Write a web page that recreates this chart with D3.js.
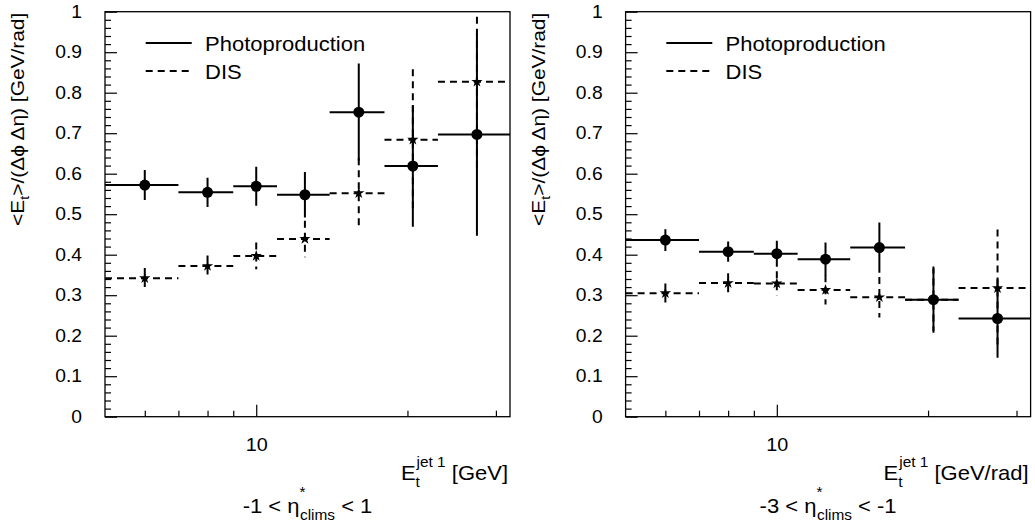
<!DOCTYPE html>
<html><head><meta charset="utf-8">
<script src="https://cdn.jsdelivr.net/npm/d3@7"></script>
<style>
body{margin:0;background:#fff}
svg{display:block}
text{font-family:"Liberation Sans",Arial,Helvetica,sans-serif;fill:#000}
</style>
</head><body>
<svg id="c" width="1035" height="527"></svg>
<script>
// ---- data ----
const binEdges = [5, 7, 9, 11, 14, 18, 23, 32];
const xMinorTicks = [6, 7, 8, 9, 20, 30];
const xMajorTicks = [10];
const xTickLabels = ["10"];
const yMajorTicks = [0, 0.1, 0.2, 0.3, 0.4, 0.5, 0.6, 0.7, 0.8, 0.9, 1];
const yTickLabels = ["0", "0.1", "0.2", "0.3", "0.4", "0.5", "0.6", "0.7", "0.8", "0.9", "1"];
const legendLabels = ["Photoproduction", "DIS"];

const photoLeft    = [0.572, 0.554, 0.569, 0.548, 0.752, 0.619, 0.697];
const photoLeftErr = [0.037, 0.036, 0.048, 0.056, 0.120, 0.150, 0.250];
const disLeft      = [0.342, 0.372, 0.397, 0.439, 0.552, 0.684, 0.827];
const disLeftErr   = [0.025, 0.026, 0.033, 0.045, 0.086, 0.174, 0.220];

const photoRight    = [0.436, 0.4075, 0.4025, 0.389, 0.4175, 0.289, 0.2425];
const photoRightErr = [0.027, 0.025, 0.032, 0.041, 0.062, 0.077, 0.097];
const disRight      = [0.305, 0.330, 0.329, 0.313, 0.295, 0.289, 0.3175];
const disRightErr   = [0.024, 0.024, 0.030, 0.036, 0.050, 0.082, 0.145];

const xTitleLeft = " [GeV]";
const xTitleRight = " [GeV/rad]";
const captionLeft = ["-1 < η", "*", "clims", " < 1"];
const captionRight = ["-3 < η", "*", "clims", " < -1"];

// ---- layout ----
const SX = 1.1;
const svg = d3.select("#c");
const Y0 = 11.7, Y1 = 416.7, W = 405;

function stretchText(sel){
  sel.each(function(){
    const t = d3.select(this);
    const x = +t.attr("x") || 0, y = +t.attr("y") || 0;
    t.attr("x", 0).attr("y", 0).attr("transform", `translate(${x},${y}) scale(${SX},1)`);
  });
}

function panel(idx, left, photo, photoErr, dis, disErr, xTitle, caption){
  const g = svg.append("g");
  const x = d3.scaleLog().domain([5, 32]).range([left, left + W]);
  const y = d3.scaleLinear().domain([0, 1]).range([Y1, Y0]);
  const centers = binEdges.slice(0, -1).map((e, i) => (e + binEdges[i + 1]) / 2);

  const clipId = "clip" + idx;
  svg.append("clipPath").attr("id", clipId).append("rect")
    .attr("x", left).attr("y", Y0).attr("width", W).attr("height", Y1 - Y0);

  // y axis: minor ticks
  const yMinor = d3.range(0, 1.0001, 0.02).filter(v => Math.abs(v * 10 - Math.round(v * 10)) > 1e-6);
  g.append("g").attr("transform", `translate(${left},0)`)
    .call(d3.axisLeft(y).tickValues(yMinor).tickSize(-6).tickFormat(""))
    .call(a => a.select(".domain").remove())
    .call(a => a.selectAll("line").attr("stroke", "#000").attr("stroke-width", 1.2));
  // y axis: major ticks + labels
  const ya = g.append("g").attr("transform", `translate(${left},0)`)
    .call(d3.axisLeft(y).tickValues(yMajorTicks).tickSize(-12).tickPadding(23)
      .tickFormat((d, i) => yTickLabels[i]))
    .call(a => a.select(".domain").remove())
    .call(a => a.selectAll("line").attr("stroke", "#000").attr("stroke-width", 1.2));
  ya.selectAll("text").attr("font-size", 17.5).attr("font-family", null).attr("fill", "#000");
  stretchText(ya.selectAll("text"));

  // x axis
  g.append("g").attr("transform", `translate(0,${Y1})`)
    .call(d3.axisBottom(x).tickValues(xMinorTicks).tickSize(-6).tickFormat(""))
    .call(a => a.select(".domain").remove())
    .call(a => a.selectAll("line").attr("stroke", "#000").attr("stroke-width", 1.2));
  const xa = g.append("g").attr("transform", `translate(0,${Y1})`)
    .call(d3.axisBottom(x).tickValues(xMajorTicks).tickSize(-12).tickPadding(22)
      .tickFormat((d, i) => xTickLabels[i]))
    .call(a => a.select(".domain").remove())
    .call(a => a.selectAll("line").attr("stroke", "#000").attr("stroke-width", 1.2));
  xa.selectAll("text").attr("font-size", 18).attr("font-family", null).attr("fill", "#000");
  stretchText(xa.selectAll("text"));

  // frame
  g.append("rect").attr("x", left).attr("y", Y0).attr("width", W).attr("height", Y1 - Y0)
    .attr("fill", "none").attr("stroke", "#000").attr("stroke-width", 1.3);

  // data
  const pg = g.append("g").attr("clip-path", `url(#${clipId})`);
  function series(vals, errs, dash){
    const s = pg.append("g").attr("stroke", "#000").attr("stroke-width", 2)
      .attr("stroke-dasharray", dash);
    s.selectAll("line.h").data(vals).join("line").attr("class", "h")
      .attr("x1", (d, i) => x(binEdges[i])).attr("x2", (d, i) => x(binEdges[i + 1]))
      .attr("y1", d => y(d)).attr("y2", d => y(d));
    s.selectAll("line.v").data(vals).join("line").attr("class", "v")
      .attr("x1", (d, i) => x(centers[i])).attr("x2", (d, i) => x(centers[i]))
      .attr("y1", (d, i) => y(d + errs[i])).attr("y2", (d, i) => y(d - errs[i]));
  }
  series(dis, disErr, "7,5");
  pg.append("g").selectAll("path").data(dis).join("path")
    .attr("d", d3.symbol().type(d3.symbolStar).size(40))
    .attr("transform", (d, i) => `translate(${x(centers[i])},${y(d)})`)
    .attr("fill", "#000");
  series(photo, photoErr, null);
  pg.append("g").selectAll("circle").data(photo).join("circle")
    .attr("cx", (d, i) => x(centers[i])).attr("cy", d => y(d)).attr("r", 5.5)
    .attr("fill", "#000");

  // legend
  const lg = g.append("g");
  lg.append("line").attr("x1", left + 40.7).attr("x2", left + 86.7).attr("y1", 43).attr("y2", 43)
    .attr("stroke", "#000").attr("stroke-width", 2);
  lg.append("line").attr("x1", left + 40.7).attr("x2", left + 86.7).attr("y1", 71).attr("y2", 71)
    .attr("stroke", "#000").attr("stroke-width", 2).attr("stroke-dasharray", "7,5");
  const lt = lg.selectAll("text").data(legendLabels).join("text")
    .attr("x", left + 100).attr("y", (d, i) => 51 + i * 28).attr("font-size", 20).text(d => d);
  stretchText(lt);

  // y title
  const yt = g.append("text").attr("font-size", 19).attr("text-anchor", "end")
    .attr("transform", `translate(${left - 81},${Y0 + 1}) rotate(-90) scale(${SX},1)`);
  yt.append("tspan").text("<E");
  yt.append("tspan").attr("font-size", 13).attr("dy", 5).text("t");
  yt.append("tspan").attr("dy", -5).text(">/(Δϕ Δη) [GeV/rad]");

  // x title
  const xt = g.append("text").attr("font-size", 20).attr("text-anchor", "end")
    .attr("transform", `translate(${left + W - 2},480) scale(${SX},1)`);
  xt.append("tspan").text("E");
  xt.append("tspan").attr("font-size", 14).attr("dy", 7).text("t");
  xt.append("tspan").attr("font-size", 14).attr("dy", -20).attr("dx", -3).text("jet 1");
  xt.append("tspan").attr("dy", 13).text(xTitle);

  // caption
  const ct = g.append("text").attr("font-size", 20).attr("text-anchor", "middle")
    .attr("transform", `translate(${left + W / 2},513) scale(${SX},1)`);
  ct.append("tspan").text(caption[0]);
  ct.append("tspan").attr("font-size", 14).attr("dy", -16).attr("dx", 0).text(caption[1]);
  ct.append("tspan").attr("font-size", 14).attr("dy", 23).attr("dx", -5).text(caption[2]);
  ct.append("tspan").attr("dy", -7).text(caption[3]);
}

panel(0, 105, photoLeft, photoLeftErr, disLeft, disLeftErr, xTitleLeft, captionLeft);
panel(1, 625.6, photoRight, photoRightErr, disRight, disRightErr, xTitleRight, captionRight);
</script>
</body></html>
